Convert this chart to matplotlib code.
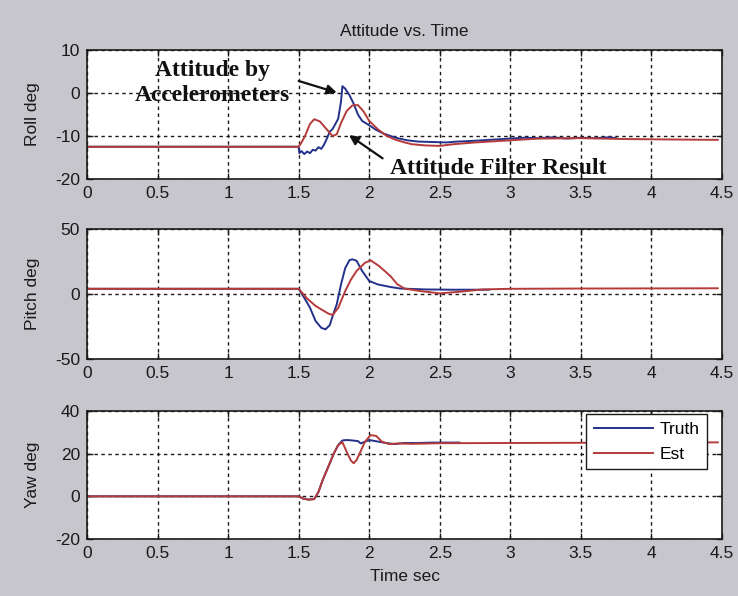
import matplotlib
matplotlib.use('Agg')
import matplotlib.pyplot as plt
from matplotlib.ticker import FuncFormatter, MultipleLocator

plt.rcParams['font.family'] = ['Liberation Sans', 'DejaVu Sans']

# ---------------- data ----------------
roll_acc_t = [0, 1.5, 1.505, 1.52, 1.54, 1.56, 1.58, 1.60, 1.62, 1.64, 1.66, 1.68, 1.70,
              1.72, 1.74, 1.76, 1.78, 1.80, 1.81, 1.83, 1.86, 1.89, 1.92, 1.95, 2.0, 2.05,
              2.1, 2.15, 2.2, 2.27, 2.35, 2.45, 2.55, 2.62, 2.7, 2.8, 2.9, 3.0, 3.1, 3.2,
              3.3, 3.4, 3.5, 3.6, 3.7, 3.75]
roll_acc = [-12.5, -12.5, -14.0, -13.5, -14.2, -13.6, -14.0, -13.2, -13.4, -12.6, -13.0,
            -12.0, -10.6, -9.0, -8.4, -7.2, -6.0, -2.0, 1.6, 1.0, -0.5, -2.5, -5.0, -6.5,
            -7.5, -8.6, -9.4, -10.0, -10.5, -11.0, -11.3, -11.4, -11.5, -11.3, -11.2,
            -11.0, -10.8, -10.6, -10.4, -10.5, -10.3, -10.6, -10.4, -10.5, -10.3, -10.5]
roll_est_t = [0, 1.5, 1.52, 1.545, 1.58, 1.61, 1.65, 1.70, 1.74, 1.77, 1.80, 1.84, 1.88,
              1.92, 1.96, 2.0, 2.06, 2.12, 2.18, 2.24, 2.3, 2.4, 2.5, 2.6, 2.75, 3.0, 3.2,
              3.5, 3.8, 4.1, 4.47]
roll_est = [-12.5, -12.5, -11.5, -10.0, -7.2, -6.1, -6.6, -8.5, -10.0, -9.6, -7.0, -4.2,
            -2.9, -2.8, -4.3, -6.5, -8.4, -9.9, -10.8, -11.4, -11.9, -12.2, -12.3, -11.9,
            -11.5, -11.0, -10.6, -10.5, -10.7, -10.8, -10.9]

pitch_truth_t = [0, 1.5, 1.54, 1.58, 1.62, 1.66, 1.69, 1.72, 1.75, 1.77, 1.80, 1.83, 1.86,
                 1.88, 1.91, 1.95, 2.0, 2.06, 2.15, 2.22, 2.4, 2.6, 2.85]
pitch_truth = [4, 4, -3, -10.5, -20.8, -26, -27.2, -24, -14, -7.9, 7.4, 20, 26, 26.7,
               25.6, 17.7, 10, 7.4, 5.4, 4.2, 3.5, 3.3, 3.3]
pitch_est_t = [0, 1.5, 1.56, 1.62, 1.67, 1.71, 1.74, 1.78, 1.83, 1.87, 1.91, 1.97, 2.01,
               2.07, 2.15, 2.2, 2.25, 2.36, 2.5, 2.65, 2.8, 3.0, 3.5, 4.0, 4.47]
pitch_est = [4, 4, -3.5, -9.2, -12.5, -15, -16.2, -10.8, 2.3, 11, 17.7, 24, 25.9, 21.5,
             13.8, 7.4, 4.2, 2.3, 0.5, 1.8, 3.5, 4.0, 4.2, 4.3, 4.4]

yaw_truth_t = [0, 1.5, 1.53, 1.57, 1.61, 1.64, 1.67, 1.71, 1.75, 1.78, 1.81, 1.84, 1.88,
               1.92, 1.94, 1.97, 2.0, 2.05, 2.11, 2.18, 2.25, 2.35, 2.45, 2.55, 2.64]
yaw_truth = [0, 0, -1, -1.5, -1.3, 2, 7.6, 13.9, 20.2, 24.0, 26.2, 26.4, 26.2, 25.9, 24.8,
             25.6, 26.4, 25.8, 25.1, 24.5, 25.0, 25.0, 25.2, 25.2, 25.2]
yaw_est_t = [0, 1.5, 1.53, 1.57, 1.61, 1.64, 1.67, 1.71, 1.75, 1.78, 1.81, 1.84, 1.87,
             1.89, 1.91, 1.93, 1.97, 2.01, 2.05, 2.09, 2.14, 2.21, 2.3, 2.5, 3.0, 3.5,
             4.0, 4.47]
yaw_est = [0, 0, -1, -1.6, -1.3, 2, 7.6, 13.9, 20.2, 24, 25.4, 20.9, 16.8, 15.5, 17, 19.8,
           25.6, 28.7, 28.3, 25.6, 24.5, 24.8, 24.6, 24.9, 25.0, 25.1, 25.2, 25.3]

x_ticks = [0, 0.5, 1, 1.5, 2, 2.5, 3, 3.5, 4, 4.5]
y_labels = ['Roll deg', 'Pitch deg', 'Yaw deg']
y_limits = [(-20, 10), (-50, 50), (-20, 40)]
y_steps = [10, 50, 20]
legend_labels = ['Truth', 'Est']
title_text = 'Attitude vs. Time'
x_label = 'Time sec'
note_acc = ['Attitude by', 'Accelerometers']
note_filter = 'Attitude Filter Result'

# ---------------- styling ----------------
BLUE = '#23318a'
RED = '#b53a3a'
FS = 12.5

fig = plt.figure(figsize=(7.38, 5.96), dpi=100, facecolor='#c6c6cc')
W, H = 738.0, 596.0
left, right = 87, 722
rows = [(50, 179), (229, 359), (411, 539)]
axes = []
for (top, bot) in rows:
    ax = fig.add_axes([left / W, 1 - bot / H, (right - left) / W, (bot - top) / H])
    axes.append(ax)

series = [
    ((roll_acc_t, roll_acc), (roll_est_t, roll_est)),
    ((pitch_truth_t, pitch_truth), (pitch_est_t, pitch_est)),
    ((yaw_truth_t, yaw_truth), (yaw_est_t, yaw_est)),
]

fmt = FuncFormatter(lambda v, p: '%g' % v)
for i, ax in enumerate(axes):
    (bt, bv), (rt, rv) = series[i]
    ax.plot(bt, bv, color=BLUE, lw=1.4, label=legend_labels[0])
    ax.plot(rt, rv, color=RED, lw=1.4, label=legend_labels[1])
    ax.set_xlim(0, 4.5)
    ax.set_ylim(*y_limits[i])
    ax.set_xticks(x_ticks)
    ax.yaxis.set_major_locator(MultipleLocator(y_steps[i]))
    ax.xaxis.set_major_formatter(fmt)
    ax.yaxis.set_major_formatter(fmt)
    ax.set_facecolor('white')
    ax.grid(True, color='#1a1a1a', linestyle=(0, (2.5, 2.5)), linewidth=1.0)
    ax.tick_params(direction='in', top=True, right=True, length=4, width=1,
                   labelsize=FS, pad=5, colors='#1a1a1a')
    for s in ax.spines.values():
        s.set_linewidth(1.2)
        s.set_color('#1a1a1a')
    ax.set_ylabel(y_labels[i], fontsize=FS, color='#1a1a1a')
    ax.yaxis.set_label_coords(-0.074, 0.5)

axes[0].set_title(title_text, fontsize=FS, pad=10, color='#1a1a1a')
axes[2].set_xlabel(x_label, fontsize=FS, color='#1a1a1a')
axes[2].xaxis.set_label_coords(0.5, -0.234)

leg = axes[2].legend(loc='upper right', bbox_to_anchor=(0.977, 0.977), borderaxespad=0,
                     fontsize=FS, fancybox=False, framealpha=1, edgecolor='#1a1a1a',
                     handlelength=3.4, handletextpad=0.4, labelspacing=0.55,
                     borderpad=0.45)
leg.get_frame().set_linewidth(1.0)

# annotations on the roll panel
ax = axes[0]
tfont = dict(family=['Liberation Serif', 'DejaVu Serif'], weight='bold', fontsize=17,
             color='#111111')
ax.text(0.886, 3.95, note_acc[0], ha='center', va='baseline', **tfont)
ax.text(0.886, -1.86, note_acc[1], ha='center', va='baseline', **tfont)
ax.text(2.147, -18.84, note_filter, ha='left', va='baseline', **tfont)
arrow = dict(arrowstyle='-|>', color='#111111', lw=1.6, mutation_scale=14,
             shrinkA=0, shrinkB=0)
ax.annotate('', xy=(1.77, 0.1), xytext=(1.50, 2.8), arrowprops=arrow)
ax.annotate('', xy=(1.857, -9.8), xytext=(2.095, -15.2), arrowprops=arrow)

fig.savefig('out.png', dpi=100, facecolor=fig.get_facecolor())
